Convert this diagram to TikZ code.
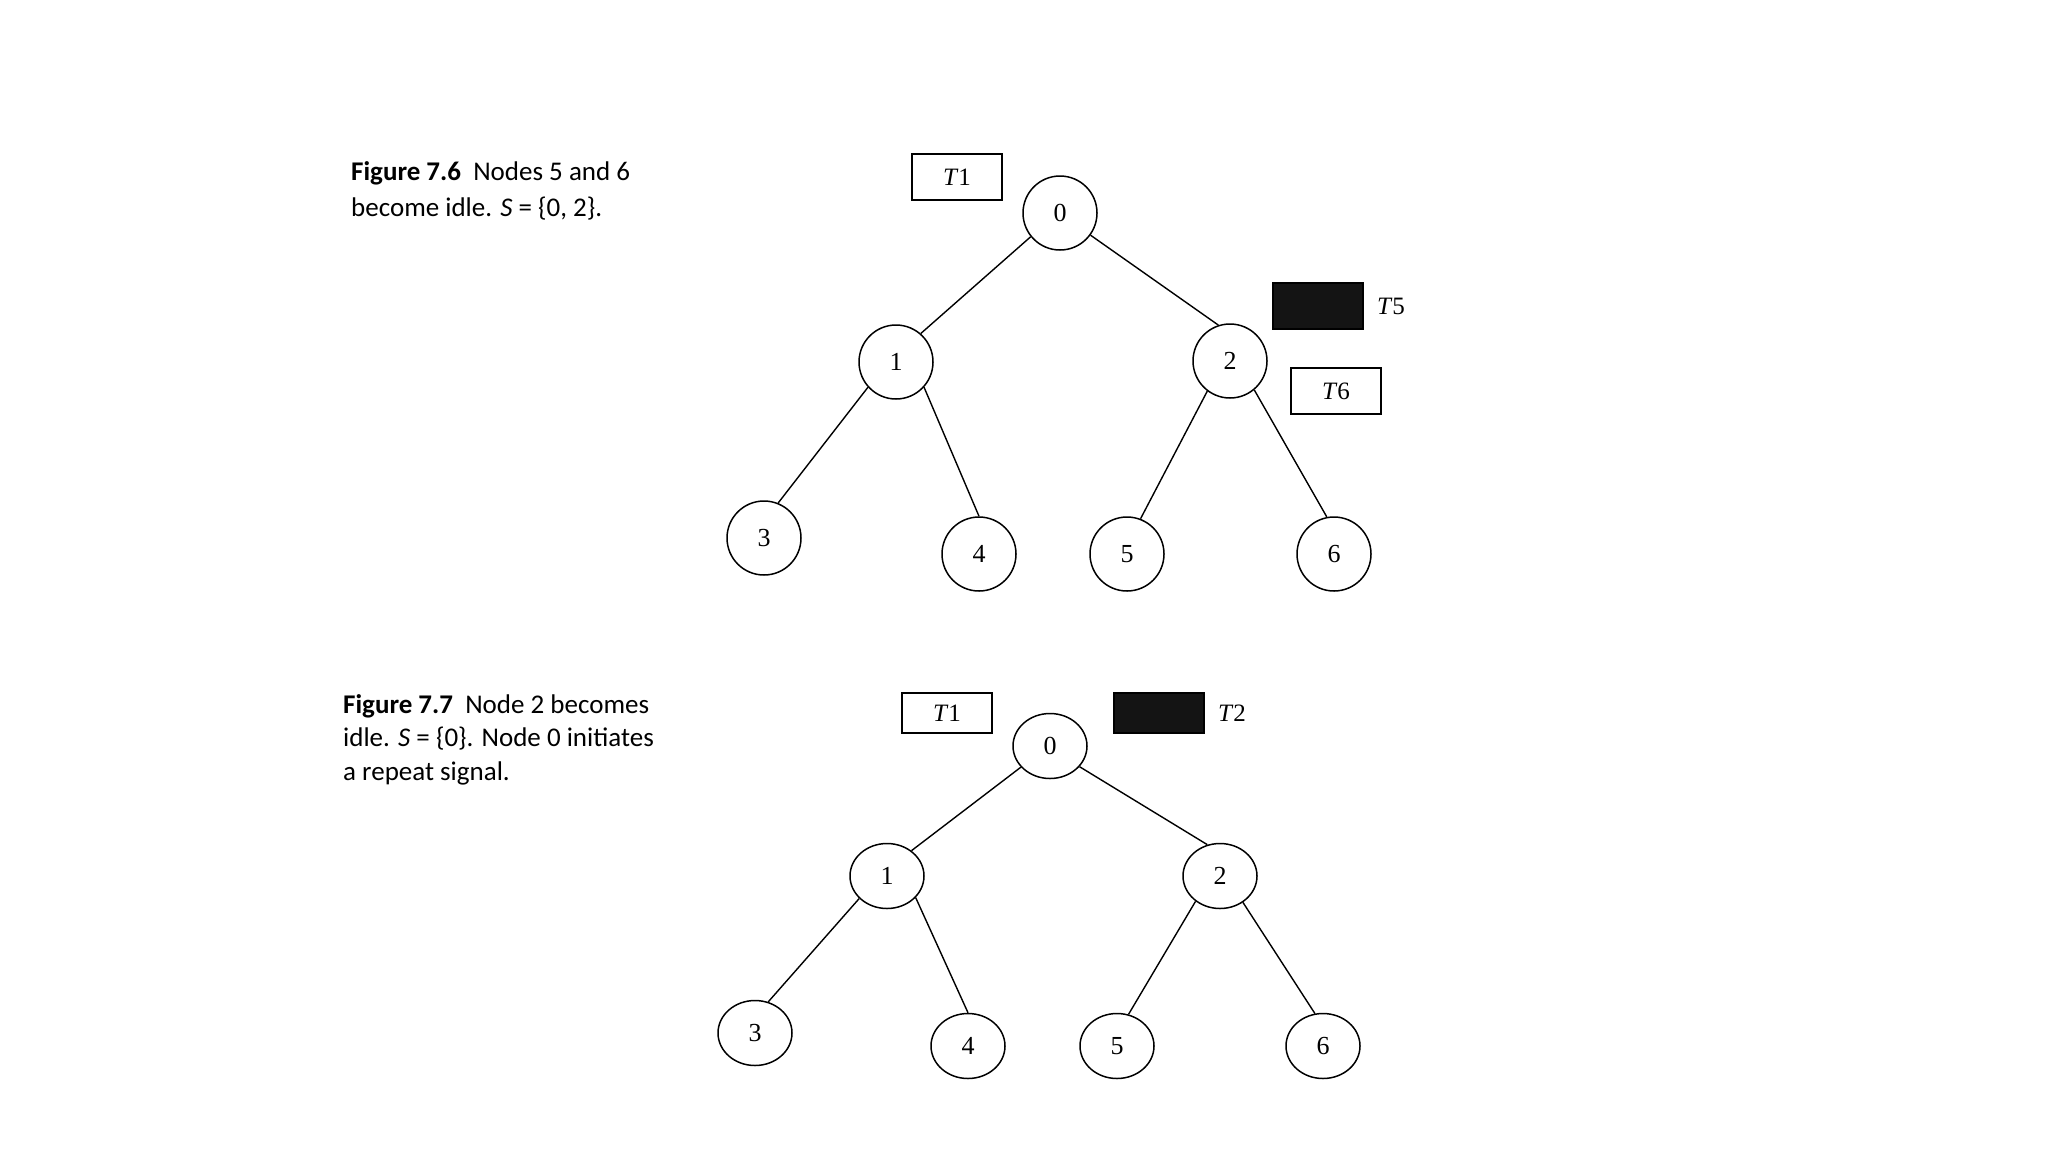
\documentclass[tikz,border=0pt]{standalone}
\usepackage{fontspec}
\setmainfont{Liberation Serif}
\newfontfamily\capfont{Carlito}
\usetikzlibrary{shapes.geometric}
\begin{document}
\begin{tikzpicture}[x=1pt,y=-1pt,
  tnode/.style={circle,draw,line width=1.5pt,minimum size=74pt,inner sep=0pt,font=\fontsize{26}{30}\selectfont},
  enode/.style={ellipse,draw,line width=1.5pt,minimum width=74pt,minimum height=65pt,inner sep=0pt,font=\fontsize{26}{30}\selectfont},
  tok/.style={draw,line width=1.5pt,minimum width=90pt,minimum height=46pt,inner sep=0pt,font=\fontsize{25}{30}\selectfont},
  tokb/.style={tok,minimum height=40pt},
  tokfill/.style={fill=black!92},
  toklabel/.style={inner sep=0pt,font=\fontsize{25}{30}\selectfont},
  link/.style={line width=1.4pt},
  captext/.style={anchor=base west,inner sep=0pt,font=\capfont\fontsize{27}{32}\selectfont}]
\useasboundingbox (0,0) rectangle (2048,1152);

% ---------- Figure 7.6 ----------
\node[captext] (c1a) at (351,180) {\textbf{Figure 7.6}\ \ Nodes 5 and 6};
\node[captext] (c1b) at (351,216) {become idle. \textit{S} = \{0, 2\}.};

\node[tnode] (a0) at (1060,213) {0};
\node[tnode] (a1) at (896,362) {1};
\node[tnode] (a2) at (1230,361) {2};
\node[tnode] (a3) at (764,538) {3};
\node[tnode] (a4) at (979,554) {4};
\node[tnode] (a5) at (1127,554) {5};
\node[tnode] (a6) at (1334,554) {6};

\node[tok] (a_t1) at (957,177) {\textit{T}1};
\node[tok,tokfill] (a_t5) at (1318,306) {};
\node[toklabel] (a_t5l) at (1391,306) {\textit{T}5};
\node[tok] (a_t6) at (1336,391) {\textit{T}6};

\draw[link] (a0.219) -- (a1.49);
\draw[link] (a0.-36) -- (a2.108);
\draw[link] (a1.222) -- (a3.68);
\draw[link] (a1.-42) -- (a4.90);
\draw[link] (a2.233) -- (a5.69);
\draw[link] (a2.-50) -- (a6.101);

% ---------- Figure 7.7 ----------
\node[captext] (c2a) at (343,713) {\textbf{Figure 7.7}\ \ Node 2 becomes};
\node[captext] (c2b) at (343,746) {idle. \textit{S} = \{0\}. Node 0 initiates};
\node[captext] (c2c) at (343,780) {a repeat signal.};

\node[enode] (b0) at (1050,746) {0};
\node[enode] (b1) at (887,876) {1};
\node[enode] (b2) at (1220,876) {2};
\node[enode] (b3) at (755,1033) {3};
\node[enode] (b4) at (968,1046) {4};
\node[enode] (b5) at (1117,1046) {5};
\node[enode] (b6) at (1323,1046) {6};

\node[tokb] (b_t1) at (947,713) {\textit{T}1};
\node[tokb,tokfill] (b_t2) at (1159,713) {};
\node[toklabel] (b_t2l) at (1232,713) {\textit{T}2};

\draw[link] (b0.216) -- (b1.46);
\draw[link] (b0.-35) -- (b2.112);
\draw[link] (b1.219) -- (b3.67);
\draw[link] (b1.-37) -- (b4.90);
\draw[link] (b2.226) -- (b5.70);
\draw[link] (b2.-49) -- (b6.104);
\end{tikzpicture}
\end{document}
